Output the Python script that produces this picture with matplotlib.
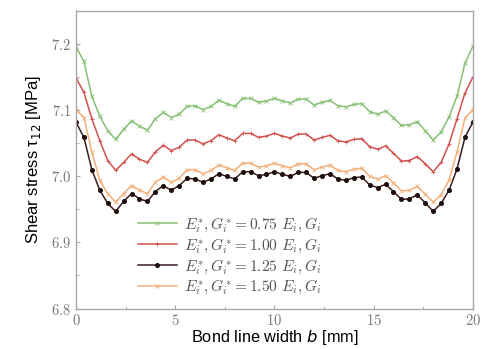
import numpy as np
import matplotlib
matplotlib.use("Agg")
import matplotlib.pyplot as plt
from matplotlib.ticker import MultipleLocator, FuncFormatter

# bond line width positions [mm]
b = np.linspace(0, 20, 51)

# shear stress tau_12 [MPa] for the four stiffness factors
tau_075 = [7.196, 7.174, 7.121, 7.091, 7.069, 7.056, 7.071, 7.084, 7.076, 7.070,
           7.087, 7.097, 7.089, 7.094, 7.106, 7.107, 7.101, 7.106, 7.115, 7.110,
           7.106, 7.118, 7.118, 7.112, 7.114, 7.118, 7.114, 7.111, 7.117, 7.117,
           7.108, 7.112, 7.115, 7.107, 7.105, 7.109, 7.110, 7.098, 7.094, 7.099,
           7.089, 7.077, 7.078, 7.083, 7.069, 7.055, 7.067, 7.090, 7.121, 7.171, 7.197]
tau_100 = [7.149, 7.127, 7.087, 7.054, 7.024, 7.009, 7.021, 7.034, 7.026, 7.021,
           7.037, 7.047, 7.039, 7.044, 7.055, 7.055, 7.049, 7.054, 7.063, 7.058,
           7.054, 7.065, 7.065, 7.059, 7.061, 7.065, 7.061, 7.058, 7.064, 7.064,
           7.055, 7.059, 7.062, 7.054, 7.052, 7.056, 7.057, 7.045, 7.041, 7.046,
           7.035, 7.023, 7.024, 7.030, 7.019, 7.007, 7.021, 7.049, 7.087, 7.126, 7.150]
tau_125 = [7.082, 7.059, 7.010, 6.979, 6.959, 6.947, 6.962, 6.974, 6.966, 6.962,
           6.977, 6.986, 6.979, 6.986, 6.997, 6.996, 6.991, 6.996, 7.004, 7.000,
           6.996, 7.007, 7.007, 7.001, 7.003, 7.007, 7.003, 7.000, 7.006, 7.006,
           6.997, 7.001, 7.004, 6.996, 6.994, 6.998, 6.999, 6.987, 6.983, 6.988,
           6.977, 6.965, 6.966, 6.972, 6.960, 6.947, 6.959, 6.979, 7.011, 7.059, 7.082]
tau_150 = [7.101, 7.089, 7.037, 6.994, 6.974, 6.961, 6.974, 6.986, 6.979, 6.974,
           6.991, 6.999, 6.991, 6.997, 7.010, 7.010, 7.004, 7.009, 7.017, 7.013,
           7.009, 7.020, 7.020, 7.014, 7.016, 7.020, 7.016, 7.013, 7.019, 7.019,
           7.010, 7.014, 7.017, 7.009, 7.007, 7.011, 7.012, 7.000, 6.996, 7.001,
           6.990, 6.978, 6.979, 6.985, 6.973, 6.961, 6.972, 6.994, 7.037, 7.088, 7.101]

labels = [r"$E_i^{*}, G_i^{*} = 0.75\ E_i, G_i$",
          r"$E_i^{*}, G_i^{*} = 1.00\ E_i, G_i$",
          r"$E_i^{*}, G_i^{*} = 1.25\ E_i, G_i$",
          r"$E_i^{*}, G_i^{*} = 1.50\ E_i, G_i$"]

fig = plt.figure(figsize=(4.84, 3.49), dpi=100)
ax = fig.add_axes([0.157, 0.116, 0.82, 0.852])

ax.plot(b, tau_075, color="#86c072", lw=1.1, marker="x", ms=2.5, mew=0.6, label=labels[0])
ax.plot(b, tau_100, color="#d2504c", lw=1.1, marker="+", ms=3, mew=0.6, label=labels[1])
ax.plot(b, tau_125, color="#3a1c1c", lw=1.1, marker="o", ms=2.6, mfc="#1e0d0d", mec="#1e0d0d", label=labels[2])
ax.plot(b, tau_150, color="#f3b07a", lw=1.1, marker="x", ms=2.5, mew=0.6, label=labels[3])

ax.set_xlim(0, 20)
ax.set_ylim(6.8, 7.25)
ax.xaxis.set_major_locator(MultipleLocator(5))
ax.xaxis.set_minor_locator(MultipleLocator(2.5))
ax.yaxis.set_major_locator(MultipleLocator(0.1))
ax.yaxis.set_minor_locator(MultipleLocator(0.05))
ax.xaxis.set_major_formatter(FuncFormatter(lambda v, p: "$%d$" % v))
ax.yaxis.set_major_formatter(FuncFormatter(lambda v, p: "$%.1f$" % v))

for s in ax.spines.values():
    s.set_color("#a8a8a8")
    s.set_linewidth(1.0)
ax.tick_params(which="both", direction="in", color="#a8a8a8", labelcolor="#777777",
               labelsize=10.5, top=False, right=False)
ax.tick_params(which="major", length=3)
ax.tick_params(which="minor", length=2)
for lab in ax.get_xticklabels() + ax.get_yticklabels():
    lab.set_math_fontfamily("cm")

ax.set_xlabel(r"Bond line width $b$ [mm]", fontsize=11.8, family="Liberation Sans",
              math_fontfamily="dejavusans", labelpad=-0.5)
ax.set_ylabel(r"Shear stress τ$_{12}$ [MPa]", fontsize=12, family="Liberation Sans",
              math_fontfamily="dejavusans", labelpad=6)

leg = ax.legend(loc="lower left", bbox_to_anchor=(0.12, -0.01), frameon=False,
                handlelength=2.5, handletextpad=0.5, labelspacing=0.06,
                prop={"math_fontfamily": "cm", "size": 11.2})
for t in leg.get_texts():
    t.set_color("#555555")

fig.savefig("out.png", dpi=100)
